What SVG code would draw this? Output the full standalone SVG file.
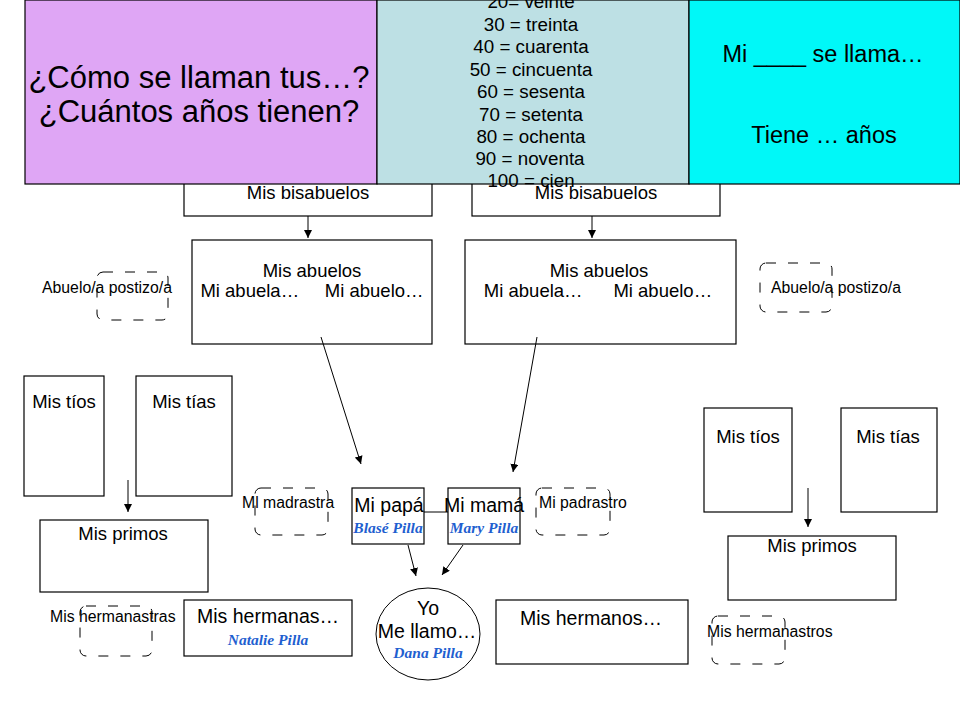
<svg xmlns="http://www.w3.org/2000/svg" width="960" height="720" viewBox="0 0 960 720">
<defs>
<marker id="ah" viewBox="0 0 10 10" refX="10" refY="5" markerWidth="8" markerHeight="8" markerUnits="userSpaceOnUse" orient="auto">
<path d="M0,0 L10,5 L0,10 z" fill="#000"/>
</marker>
<style>
.box{fill:#fff;stroke:#000;stroke-width:1.2}
.dash{fill:none;stroke:#000;stroke-width:1;stroke-dasharray:10 12}
.t{font-family:"Liberation Sans",Arial,sans-serif;fill:#000;font-size:18.5px;text-anchor:middle}
.tb{font-family:"Liberation Sans",Arial,sans-serif;fill:#000;font-size:19.5px;text-anchor:middle}
.num{font-family:"Liberation Sans",Arial,sans-serif;fill:#000;font-size:18.8px;text-anchor:middle}
.big{font-family:"Liberation Sans",Arial,sans-serif;fill:#000;font-size:31px;text-anchor:middle}
.cy{font-family:"Liberation Sans",Arial,sans-serif;fill:#000;font-size:23.5px;text-anchor:middle}
.s{font-family:"Liberation Sans",Arial,sans-serif;fill:#000;font-size:15.8px}
.n{font-family:"Liberation Serif","DejaVu Serif",serif;font-style:italic;font-weight:bold;fill:#1f5fd0;font-size:15.5px;text-anchor:middle}
.c{stroke:#000;stroke-width:1;fill:none}
.a{stroke:#000;stroke-width:1;fill:none;marker-end:url(#ah)}
</style>
</defs>
<rect width="960" height="720" fill="#fff"/>

<g id="bisabuelos-left"><rect class="box" x="184" y="160" width="248" height="56"/><text class="t" x="308" y="199">Mis bisabuelos</text></g>
<g id="bisabuelos-right"><rect class="box" x="472" y="160" width="248" height="56"/><text class="t" x="596" y="199">Mis bisabuelos</text></g>

<g id="banner">
<g id="banner-question"><rect x="25" y="0" width="352" height="184" fill="#dfa6f5" stroke="#000" stroke-width="1.2"/>
<text class="big" x="199" y="88">¿Cómo se llaman tus…?</text>
<text class="big" x="199" y="122">¿Cuántos años tienen?</text></g>
<g id="banner-numbers"><rect x="377" y="0" width="312" height="184" fill="#bde0e4" stroke="#000" stroke-width="1.2"/>
<text class="num" x="531" y="8">20= veinte</text>
<text class="num" x="531" y="31">30 = treinta</text>
<text class="num" x="531" y="53">40 = cuarenta</text>
<text class="num" x="531" y="76">50 = cincuenta</text>
<text class="num" x="531" y="98">60 = sesenta</text>
<text class="num" x="531" y="121">70 = setenta</text>
<text class="num" x="531" y="143">80 = ochenta</text>
<text class="num" x="530" y="165">90 = noventa</text>
<text class="num" x="531" y="187">100 = cien</text>
</g>
<g id="banner-phrase"><rect x="689" y="0" width="271" height="184" fill="#00f8f8" stroke="#000" stroke-width="1.2"/>
<text class="cy" x="823" y="62">Mi ____ se llama…</text>
<text class="cy" x="824" y="143">Tiene … años</text></g>
</g>

<g id="abuelos-left"><rect class="box" x="192" y="240" width="240" height="104"/><text class="t" x="312" y="277">Mis abuelos</text><text class="t" x="312" y="297" xml:space="preserve">Mi abuela…     Mi abuelo…</text></g>
<g id="abuelos-right"><rect class="box" x="465" y="240" width="271" height="104"/><text class="t" x="599" y="277">Mis abuelos</text><text class="t" x="598" y="297" xml:space="preserve">Mi abuela…      Mi abuelo…</text></g>

<g id="postizo-left"><rect class="dash" x="97" y="272" width="71" height="48" rx="6"/><text class="s" x="42" y="293">Abuelo/a postizo/a</text></g>
<g id="postizo-right"><rect class="dash" x="760" y="263" width="72" height="49" rx="6"/><text class="s" x="771" y="293">Abuelo/a postizo/a</text></g>

<g id="tios-left"><rect class="box" x="24" y="376" width="80" height="120"/><text class="t" x="64" y="408">Mis tíos</text></g>
<g id="tias-left"><rect class="box" x="136" y="376" width="96" height="120"/><text class="t" x="184" y="408">Mis tías</text></g>
<g id="primos-left"><rect class="box" x="40" y="520" width="168" height="72"/><text class="t" x="123" y="540">Mis primos</text></g>

<g id="tios-right"><rect class="box" x="704" y="408" width="88" height="104"/><text class="t" x="748" y="443">Mis tíos</text></g>
<g id="tias-right"><rect class="box" x="841" y="408" width="96" height="104"/><text class="t" x="888" y="443">Mis tías</text></g>
<g id="primos-right"><rect class="box" x="728" y="536" width="168" height="64"/><text class="t" x="812" y="552">Mis primos</text></g>

<g id="madrastra"><rect class="dash" x="255" y="488" width="73" height="47" rx="6"/><text class="s" x="242" y="508">Ml madrastra</text></g>
<g id="papa"><rect class="box" x="352" y="488" width="72" height="56"/><text class="tb" x="389" y="512">Mi papá</text><text class="n" x="388" y="533">Blasé Pilla</text></g>
<g id="mama"><rect class="box" x="448" y="488" width="72" height="56"/><text class="tb" x="484" y="512">Mi mamá</text><text class="n" x="484" y="533">Mary Pilla</text></g>
<g id="padrastro"><rect class="dash" x="536" y="488" width="74" height="47" rx="6"/><text class="s" x="539" y="508">Mi padrastro</text></g>

<g id="yo"><ellipse cx="428" cy="634" rx="52" ry="46" fill="#fff" stroke="#000" stroke-width="1"/><text class="tb" x="428" y="615">Yo</text><text class="tb" x="427" y="638">Me llamo…</text><text class="n" x="428" y="658">Dana Pilla</text></g>

<g id="hermanastras"><rect class="dash" x="80" y="606" width="72" height="50" rx="6"/><text class="s" x="50" y="622">Mis hermanastras</text></g>
<g id="hermanas"><rect class="box" x="184" y="600" width="168" height="56"/><text class="tb" x="268" y="623">Mis hermanas…</text><text class="n" x="268" y="645">Natalie Pilla</text></g>
<g id="hermanos"><rect class="box" x="496" y="600" width="192" height="64"/><text class="tb" x="591" y="625">Mis hermanos…</text></g>
<g id="hermanastros"><rect class="dash" x="712" y="616" width="73" height="48" rx="6"/><text class="s" x="707" y="637">Mis hermanastros</text></g>

<g id="connectors">
<line class="a" x1="308" y1="216" x2="308" y2="238"/>
<line class="a" x1="592" y1="216" x2="592" y2="238"/>
<line class="a" x1="321" y1="337" x2="361" y2="464"/>
<line class="a" x1="537" y1="337" x2="513" y2="472"/>
<line class="c" x1="424" y1="512" x2="448" y2="512"/>
<line class="a" x1="408" y1="545" x2="416" y2="576"/>
<line class="a" x1="463" y1="545" x2="442" y2="575"/>
<line class="a" x1="128" y1="480" x2="128" y2="512"/>
<line class="a" x1="808" y1="488" x2="808" y2="527"/>
</g>
</svg>
